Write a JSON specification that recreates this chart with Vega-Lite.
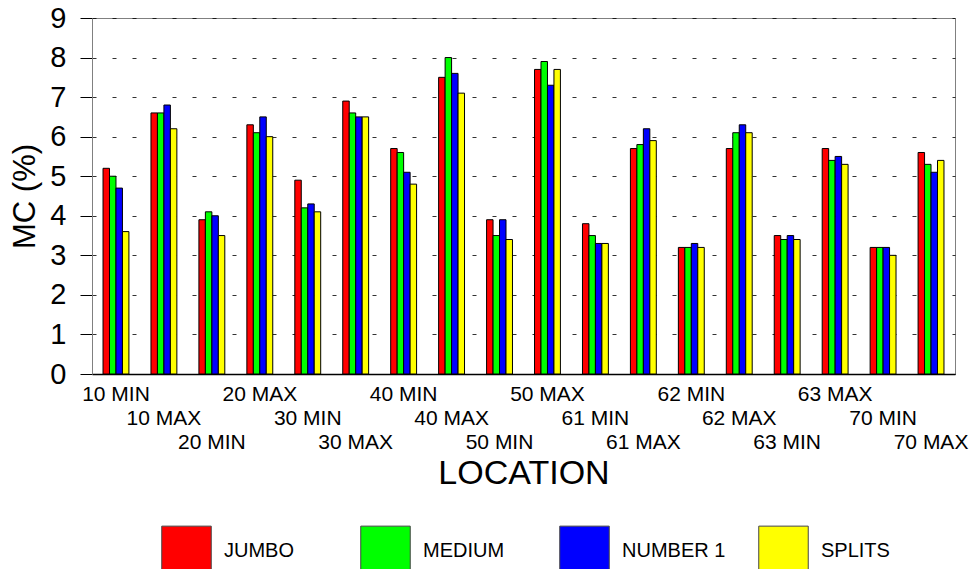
{
  "$schema": "https://vega.github.io/schema/vega-lite/v6.json",
  "width": 863,
  "height": 356,
  "autosize": "none",
  "padding": {"left": 92, "top": 18, "right": 16, "bottom": 195},
  "background": "white",
  "config": {
    "font": "Liberation Sans",
    "view": {"stroke": "#808080", "strokeWidth": 1}
  },
  "data": {
    "values": [
      {"loc": "10 MIN", "grade": "JUMBO", "mc": 5.2}, {"loc": "10 MIN", "grade": "MEDIUM", "mc": 5.0}, {"loc": "10 MIN", "grade": "NUMBER 1", "mc": 4.7}, {"loc": "10 MIN", "grade": "SPLITS", "mc": 3.6},
      {"loc": "10 MAX", "grade": "JUMBO", "mc": 6.6}, {"loc": "10 MAX", "grade": "MEDIUM", "mc": 6.6}, {"loc": "10 MAX", "grade": "NUMBER 1", "mc": 6.8}, {"loc": "10 MAX", "grade": "SPLITS", "mc": 6.2},
      {"loc": "20 MIN", "grade": "JUMBO", "mc": 3.9}, {"loc": "20 MIN", "grade": "MEDIUM", "mc": 4.1}, {"loc": "20 MIN", "grade": "NUMBER 1", "mc": 4.0}, {"loc": "20 MIN", "grade": "SPLITS", "mc": 3.5},
      {"loc": "20 MAX", "grade": "JUMBO", "mc": 6.3}, {"loc": "20 MAX", "grade": "MEDIUM", "mc": 6.1}, {"loc": "20 MAX", "grade": "NUMBER 1", "mc": 6.5}, {"loc": "20 MAX", "grade": "SPLITS", "mc": 6.0},
      {"loc": "30 MIN", "grade": "JUMBO", "mc": 4.9}, {"loc": "30 MIN", "grade": "MEDIUM", "mc": 4.2}, {"loc": "30 MIN", "grade": "NUMBER 1", "mc": 4.3}, {"loc": "30 MIN", "grade": "SPLITS", "mc": 4.1},
      {"loc": "30 MAX", "grade": "JUMBO", "mc": 6.9}, {"loc": "30 MAX", "grade": "MEDIUM", "mc": 6.6}, {"loc": "30 MAX", "grade": "NUMBER 1", "mc": 6.5}, {"loc": "30 MAX", "grade": "SPLITS", "mc": 6.5},
      {"loc": "40 MIN", "grade": "JUMBO", "mc": 5.7}, {"loc": "40 MIN", "grade": "MEDIUM", "mc": 5.6}, {"loc": "40 MIN", "grade": "NUMBER 1", "mc": 5.1}, {"loc": "40 MIN", "grade": "SPLITS", "mc": 4.8},
      {"loc": "40 MAX", "grade": "JUMBO", "mc": 7.5}, {"loc": "40 MAX", "grade": "MEDIUM", "mc": 8.0}, {"loc": "40 MAX", "grade": "NUMBER 1", "mc": 7.6}, {"loc": "40 MAX", "grade": "SPLITS", "mc": 7.1},
      {"loc": "50 MIN", "grade": "JUMBO", "mc": 3.9}, {"loc": "50 MIN", "grade": "MEDIUM", "mc": 3.5}, {"loc": "50 MIN", "grade": "NUMBER 1", "mc": 3.9}, {"loc": "50 MIN", "grade": "SPLITS", "mc": 3.4},
      {"loc": "50 MAX", "grade": "JUMBO", "mc": 7.7}, {"loc": "50 MAX", "grade": "MEDIUM", "mc": 7.9}, {"loc": "50 MAX", "grade": "NUMBER 1", "mc": 7.3}, {"loc": "50 MAX", "grade": "SPLITS", "mc": 7.7},
      {"loc": "61 MIN", "grade": "JUMBO", "mc": 3.8}, {"loc": "61 MIN", "grade": "MEDIUM", "mc": 3.5}, {"loc": "61 MIN", "grade": "NUMBER 1", "mc": 3.3}, {"loc": "61 MIN", "grade": "SPLITS", "mc": 3.3},
      {"loc": "61 MAX", "grade": "JUMBO", "mc": 5.7}, {"loc": "61 MAX", "grade": "MEDIUM", "mc": 5.8}, {"loc": "61 MAX", "grade": "NUMBER 1", "mc": 6.2}, {"loc": "61 MAX", "grade": "SPLITS", "mc": 5.9},
      {"loc": "62 MIN", "grade": "JUMBO", "mc": 3.2}, {"loc": "62 MIN", "grade": "MEDIUM", "mc": 3.2}, {"loc": "62 MIN", "grade": "NUMBER 1", "mc": 3.3}, {"loc": "62 MIN", "grade": "SPLITS", "mc": 3.2},
      {"loc": "62 MAX", "grade": "JUMBO", "mc": 5.7}, {"loc": "62 MAX", "grade": "MEDIUM", "mc": 6.1}, {"loc": "62 MAX", "grade": "NUMBER 1", "mc": 6.3}, {"loc": "62 MAX", "grade": "SPLITS", "mc": 6.1},
      {"loc": "63 MIN", "grade": "JUMBO", "mc": 3.5}, {"loc": "63 MIN", "grade": "MEDIUM", "mc": 3.4}, {"loc": "63 MIN", "grade": "NUMBER 1", "mc": 3.5}, {"loc": "63 MIN", "grade": "SPLITS", "mc": 3.4},
      {"loc": "63 MAX", "grade": "JUMBO", "mc": 5.7}, {"loc": "63 MAX", "grade": "MEDIUM", "mc": 5.4}, {"loc": "63 MAX", "grade": "NUMBER 1", "mc": 5.5}, {"loc": "63 MAX", "grade": "SPLITS", "mc": 5.3},
      {"loc": "70 MIN", "grade": "JUMBO", "mc": 3.2}, {"loc": "70 MIN", "grade": "MEDIUM", "mc": 3.2}, {"loc": "70 MIN", "grade": "NUMBER 1", "mc": 3.2}, {"loc": "70 MIN", "grade": "SPLITS", "mc": 3.0},
      {"loc": "70 MAX", "grade": "JUMBO", "mc": 5.6}, {"loc": "70 MAX", "grade": "MEDIUM", "mc": 5.3}, {"loc": "70 MAX", "grade": "NUMBER 1", "mc": 5.1}, {"loc": "70 MAX", "grade": "SPLITS", "mc": 5.4}
    ]
  },
  "mark": {"type": "bar", "stroke": "black", "strokeWidth": 1},
  "encoding": {
    "x": {
      "field": "loc",
      "type": "nominal",
      "sort": null,
      "scale": {"paddingInner": 0.46, "paddingOuter": 0.23},
      "axis": {
        "title": "LOCATION",
        "titleFontSize": 34,
        "titleFontWeight": "normal",
        "titleColor": "black",
        "titlePadding": 4,
        "labelAngle": 0,
        "labelFontSize": 21,
        "labelColor": "black",
        "labelPadding": {"expr": "9 + 24 * (indexof(['10 MIN','10 MAX','20 MIN','20 MAX','30 MIN','30 MAX','40 MIN','40 MAX','50 MIN','50 MAX','61 MIN','61 MAX','62 MIN','62 MAX','63 MIN','63 MAX','70 MIN','70 MAX'], datum.value) % 3)"},
        "labelOverlap": false,
        "labelBound": false,
        "labelFlush": false,
        "ticks": false,
        "domainColor": "black",
        "domainWidth": 1.5
      }
    },
    "xOffset": {"field": "grade", "type": "nominal", "scale": {"paddingInner": 0, "paddingOuter": 0}},
    "y": {
      "field": "mc",
      "type": "quantitative",
      "scale": {"domain": [0, 9], "nice": false},
      "axis": {
        "title": "MC (%)",
        "titleFontSize": 31,
        "titleFontWeight": "normal",
        "titleColor": "black",
        "titlePadding": 8,
        "values": [0, 1, 2, 3, 4, 5, 6, 7, 8, 9],
        "labelFontSize": 29,
        "labelColor": "black",
        "labelPadding": 14,
        "tickSize": 12,
        "tickColor": "black",
        "domainColor": "#808080",
        "grid": true,
        "gridColor": "black",
        "gridDash": [4, 16],
        "gridOpacity": 0.8
      }
    },
    "color": {
      "field": "grade",
      "type": "nominal",
      "scale": {
        "domain": ["JUMBO", "MEDIUM", "NUMBER 1", "SPLITS"],
        "range": ["#ff0000", "#00ff00", "#0000ff", "#ffff00"]
      },
      "legend": {
        "title": null,
        "orient": "none",
        "direction": "horizontal",
        "columns": 4,
        "gridAlign": "all",
        "legendX": 69,
        "legendY": 507,
        "symbolType": "square",
        "symbolSize": 2450,
        "symbolStrokeColor": "#444444",
        "symbolStrokeWidth": 1,
        "symbolOpacity": 1,
        "labelFontSize": 20,
        "labelColor": "black",
        "labelOffset": 12,
        "columnPadding": 30
      }
    }
  }
}
